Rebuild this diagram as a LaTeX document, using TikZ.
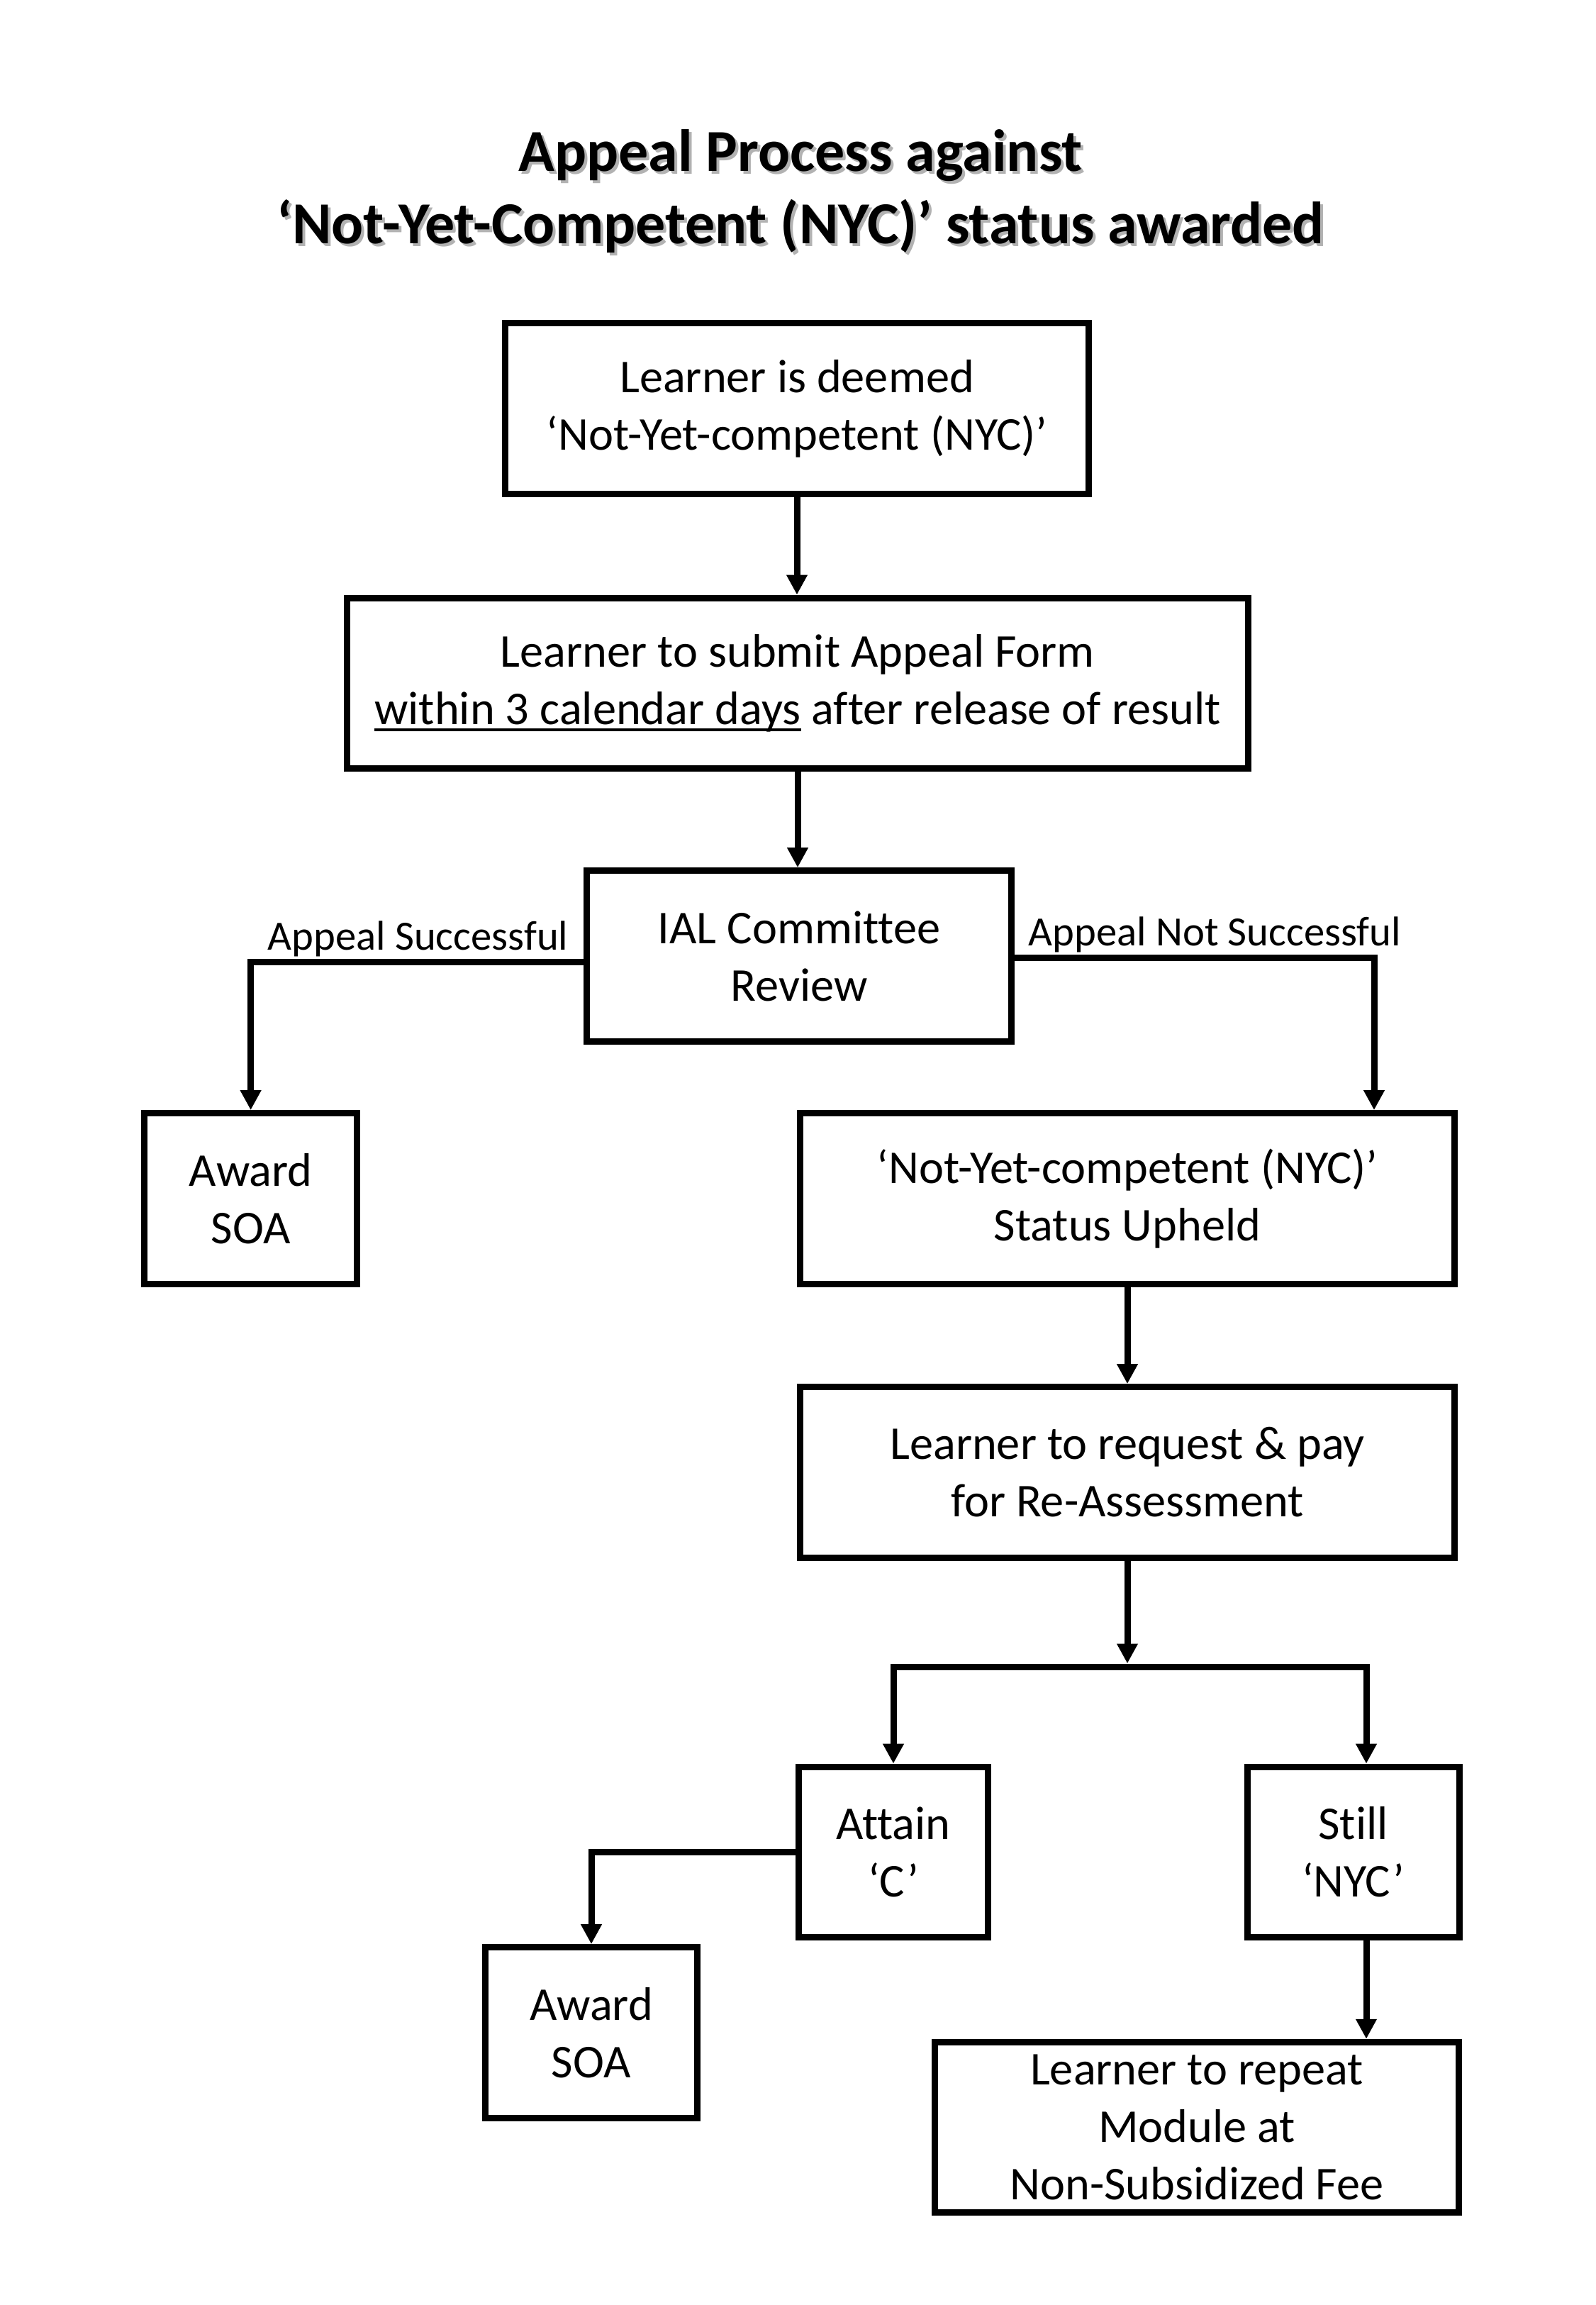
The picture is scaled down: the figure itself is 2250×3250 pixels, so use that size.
\documentclass[tikz,border=0pt]{standalone}
\usepackage{fontspec}
\setmainfont{Carlito}[Ligatures={NoCommon}]
\usetikzlibrary{arrows.meta,calc}
\newcommand\myul[1]{\setbox0\hbox{#1}\rlap{\rule[-2.9pt]{\wd0}{1.3pt}}\box0\relax}
\tikzset{
  ttl/.style={font=\bfseries\fontsize{25.2pt}{30pt}\selectfont, inner sep=0pt},
  box/.style={draw, line width=2.7pt, inner sep=0pt, align=center,
    font=\fontsize{19.9pt}{24.3pt}\selectfont, minimum height=72.2pt},
  lbl/.style={font=\fontsize{17.6pt}{21pt}\selectfont, inner sep=0pt},
  conn/.style={line width=2.7pt},
  arr/.style={line width=2.7pt, -{Triangle[length=8.4pt,width=8.4pt]}}
}
\begin{document}
\begin{tikzpicture}[x=0.3pt,y=-0.3pt]
\useasboundingbox (0,0) rectangle (2250,3250);
% title with shadow
\node[ttl, anchor=base, text=gray!60] (t1s) at (1133,245) {Appeal Process against};
\node[ttl, anchor=base, text=gray!60] (t2s) at (1133,347) {‘Not-Yet-Competent (NYC)’ status awarded};
\node[ttl, anchor=base] (t1) at (1129,241) {Appeal Process against};
\node[ttl, anchor=base] (t2) at (1129,343) {‘Not-Yet-Competent (NYC)’ status awarded};
% boxes
\node[box, minimum width=246.9pt] (deemed) at (1124,576.3) {Learner is deemed\\‘Not-Yet-competent (NYC)’};
\node[box, minimum width=381.3pt] (submit) at (1125,963.4) {Learner to submit Appeal Form\\\myul{within 3 calendar days} after release of result};
\node[box, minimum width=179.7pt] (ial) at (1127,1348) {IAL Committee\\Review};
\node[box, minimum width=90.2pt] (award1) at (353.6,1690) {Award\\SOA};
\node[box, minimum width=276.9pt] (upheld) at (1590,1690) {‘Not-Yet-competent (NYC)’\\Status Upheld};
\node[box, minimum width=276.9pt] (reassess) at (1590,2076) {Learner to request \& pay\\for Re-Assessment};
\node[box, minimum width=80.1pt] (attain) at (1260,2611.5) {Attain\\‘C’};
\node[box, minimum width=89.7pt] (still) at (1908.5,2611.5) {Still\\‘NYC’};
\node[box, minimum width=89.55pt] (award2) at (834,2866) {Award\\SOA};
\node[box, minimum width=221.55pt] (repeat) at (1688,2999.6) {Learner to repeat\\Module at\\Non-Subsidized Fee};
% labels
\node[lbl, anchor=base east] (lsucc) at ($(ial.west)+(-21,-9)$) {Appeal Successful};
\node[lbl, anchor=base west] (lnot) at ($(ial.east)+(19,-15)$) {Appeal Not Successful};
% connectors
\draw[arr] (deemed.south) -- (deemed.south |- submit.north);
\draw[arr] (submit.south) -- (submit.south |- ial.north);
\draw[arr] ([yshift=-2.4pt]ial.west) -| (award1.north);
\draw[arr] ([yshift=-0.6pt]ial.east) -| ([xshift=104.4pt]upheld.north);
\draw[arr] (upheld.south) -- (reassess.north);
\coordinate (split) at (1590,2350);
\draw[arr] (reassess.south) -- ([yshift=1.35pt]split);
\draw[arr] (split) -| (attain.north);
\draw[arr] (split) -| ([xshift=5.55pt]still.north);
\draw[arr] (attain.west) -| (award2.north);
\draw[arr] ([xshift=5.55pt]still.south) -- ([xshift=5.55pt]still.south |- repeat.north);
\end{tikzpicture}
\end{document}
